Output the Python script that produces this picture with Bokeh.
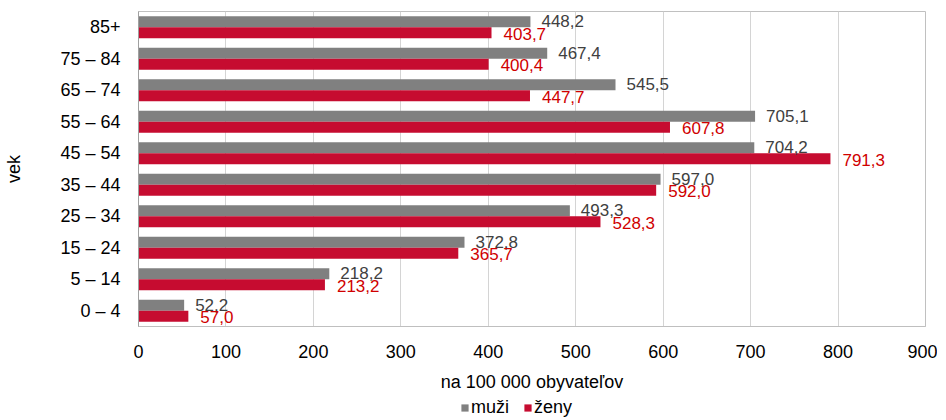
from bokeh.plotting import figure
from bokeh.layouts import column
from bokeh.models import ColumnDataSource, FactorRange, Range1d, Legend, LegendItem, FixedTicker
from bokeh.transform import dodge
from bokeh.core.properties import value
from bokeh.embed import file_html
from bokeh.resources import INLINE

categories = ["0 – 4", "5 – 14", "15 – 24", "25 – 34", "35 – 44",
              "45 – 54", "55 – 64", "65 – 74", "75 – 84", "85+"]
muzi = [52.2, 218.2, 372.8, 493.3, 597.0, 704.2, 705.1, 545.5, 467.4, 448.2]
zeny = [57.0, 213.2, 365.7, 528.3, 592.0, 791.3, 607.8, 447.7, 400.4, 403.7]
series_names = ["muži", "ženy"]
x_ticks = [0, 100, 200, 300, 400, 500, 600, 700, 800, 900]

FONT = "Liberation Sans"
GREY = "#808080"
RED = "#c60c30"

src = ColumnDataSource(dict(
    cat=categories, muzi=muzi, zeny=zeny,
    muzi_lbl=[f"{v:.1f}".replace(".", ",") for v in muzi],
    zeny_lbl=[f"{v:.1f}".replace(".", ",") for v in zeny],
))

p = figure(frame_width=787, frame_height=315, output_backend="svg", toolbar_location=None,
           y_range=FactorRange(factors=categories), x_range=Range1d(0, 900),
           min_border_left=138, min_border_right=12, min_border_top=11, min_border_bottom=70)

p.hbar(y=dodge("cat", 0.175, range=p.y_range), right="muzi", left=0, height=0.35,
       source=src, fill_color=GREY, line_color=None)
p.hbar(y=dodge("cat", -0.175, range=p.y_range), right="zeny", left=0, height=0.35,
       source=src, fill_color=RED, line_color=None)

p.text(x="muzi", y=dodge("cat", 0.19, range=p.y_range), text="muzi_lbl", source=src,
       x_offset=11, text_baseline="middle", text_font=value(FONT), text_font_size="17px",
       text_color="#404040")
p.text(x="zeny", y=dodge("cat", -0.2, range=p.y_range), text="zeny_lbl", source=src,
       x_offset=12, text_baseline="middle", text_font=value(FONT), text_font_size="17px",
       text_color="#d00000")

p.outline_line_color = "#c0c0c0"
p.ygrid.grid_line_color = None
p.xgrid.grid_line_color = "#d4d4d4"
p.xaxis.ticker = FixedTicker(ticks=x_ticks)

for ax in (p.xaxis, p.yaxis):
    ax.major_tick_line_color = None
    ax.minor_tick_line_color = None
    ax.major_label_text_font = FONT
    ax.major_label_text_font_size = "18px"
    ax.major_label_text_color = "#000000"
    ax.axis_label_text_font = FONT
    ax.axis_label_text_font_size = "18px"
    ax.axis_label_text_font_style = "normal"
    ax.axis_label_text_color = "#000000"

p.yaxis.axis_line_color = "#a0a0a0"
p.yaxis.major_label_standoff = 12
p.yaxis.axis_label = "vek"
p.yaxis.axis_label_standoff = 33
p.xaxis.axis_line_color = "#bfbfbf"
p.xaxis.major_label_standoff = 12
p.xaxis.axis_label = "na 100 000 obyvateľov"
p.xaxis.axis_label_standoff = 11

# legend strip below the chart (its renderers are hidden, only the legend shows)
lf = figure(frame_width=787, height=24, output_backend="svg", toolbar_location=None,
            x_range=Range1d(0, 900), y_range=Range1d(0, 1),
            min_border_left=138, min_border_right=12, min_border_top=0, min_border_bottom=0)
lf.axis.visible = False
lf.grid.visible = False
lf.outline_line_color = None
lg_m = lf.hbar(y=0.5, right="muzi", left=0, height=0.5, source=src, fill_color=GREY, line_color=None)
lg_z = lf.hbar(y=0.5, right="zeny", left=0, height=0.5, source=src, fill_color=RED, line_color=None)
lg_m.visible = False
lg_z.visible = False

legend = Legend(items=[LegendItem(label=series_names[0], renderers=[lg_m]),
                       LegendItem(label=series_names[1], renderers=[lg_z])],
                orientation="horizontal", location=(322, 2),
                glyph_width=9, glyph_height=9, label_standoff=2, spacing=14,
                padding=0, margin=0, border_line_color=None, background_fill_alpha=0,
                inactive_fill_alpha=0,
                label_text_font=FONT, label_text_font_size="18px", label_text_color="#000000",
                label_height=18)
lf.add_layout(legend, "center")

layout = column(p, lf, spacing=0)
open("out.html", "w").write(file_html(layout, INLINE))
